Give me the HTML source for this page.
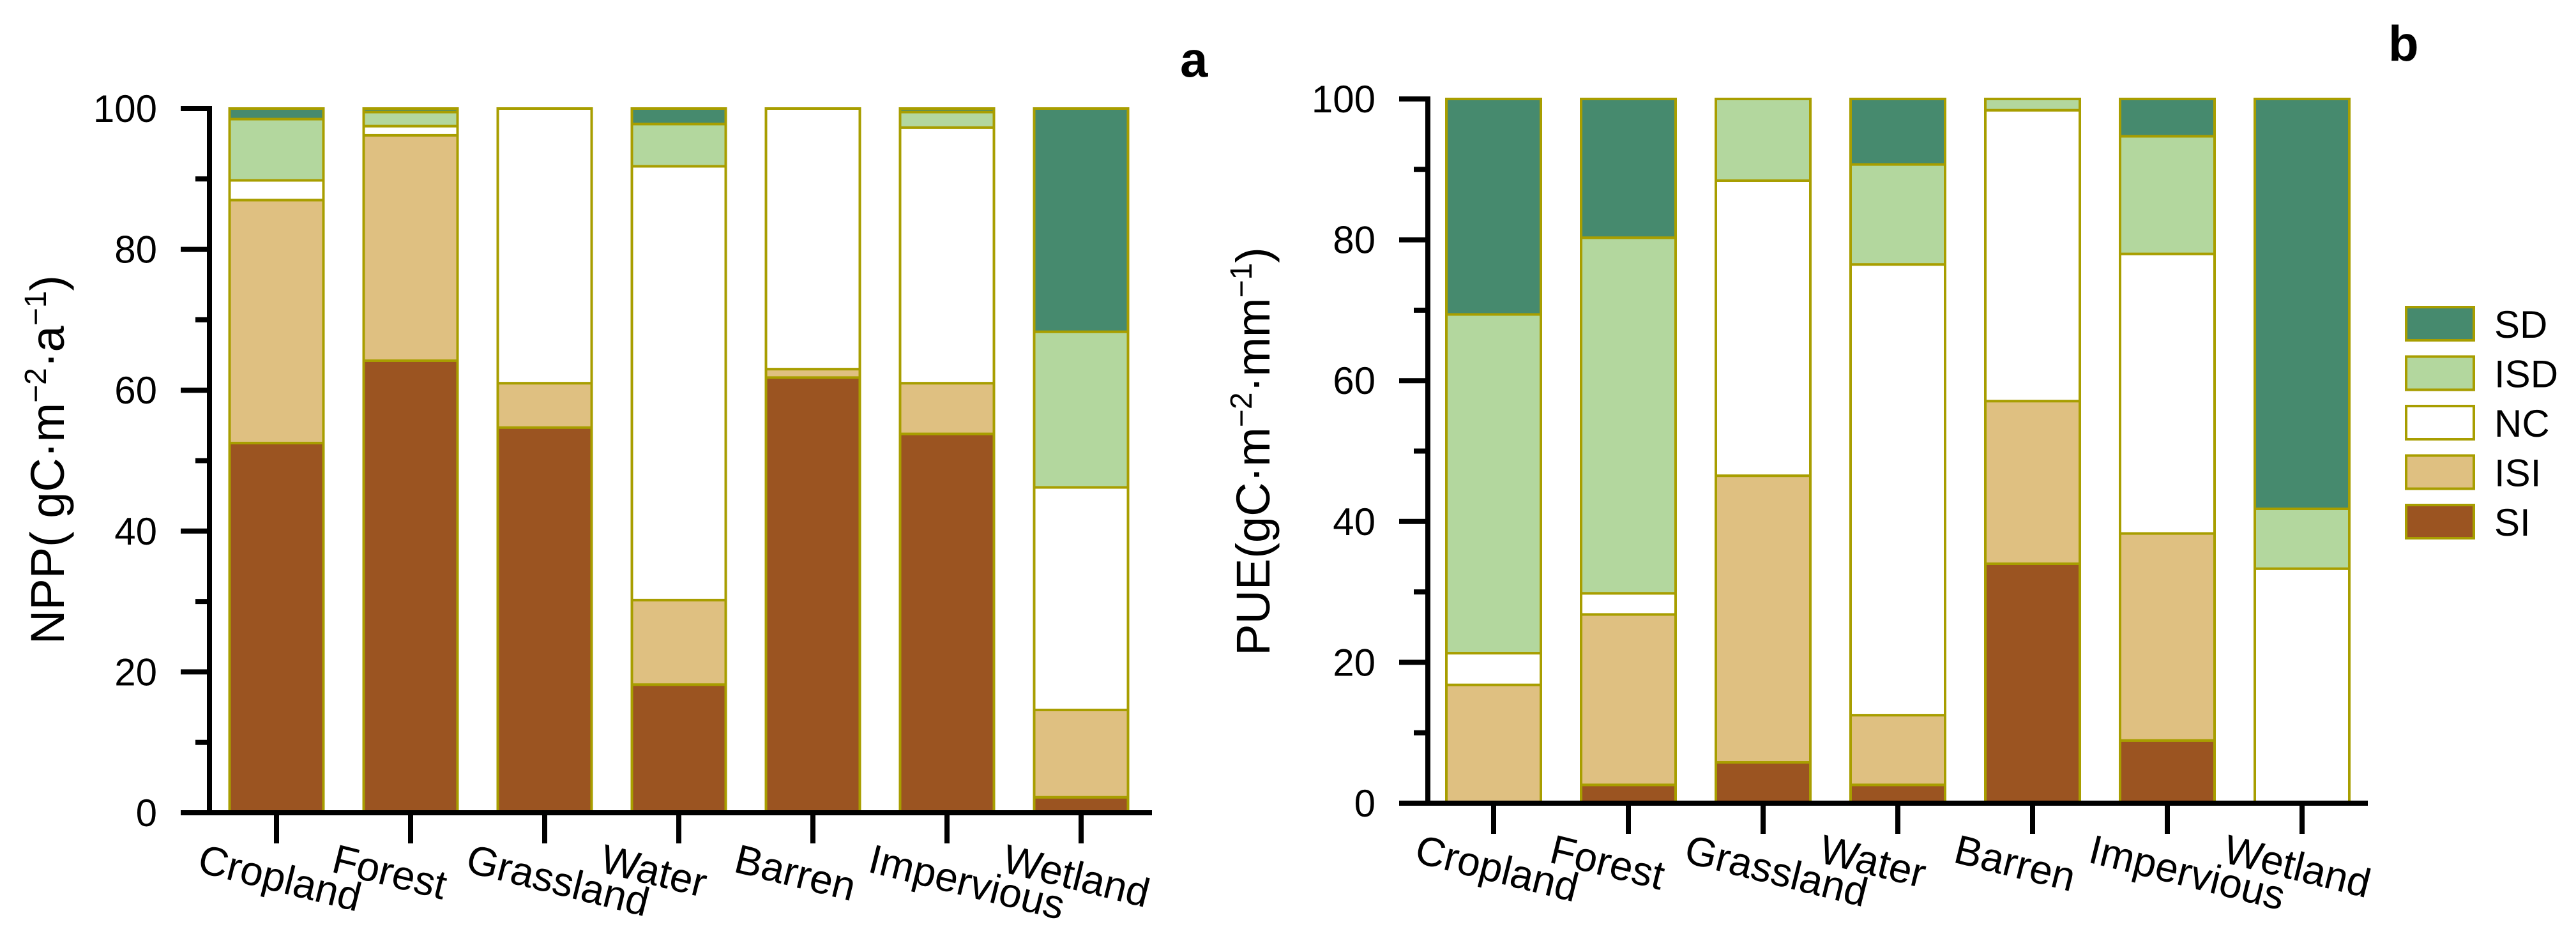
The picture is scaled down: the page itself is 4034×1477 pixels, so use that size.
<!DOCTYPE html>
<html><head><meta charset="utf-8">
<style>
html,body{margin:0;padding:0;background:#fff;}
svg{display:block;font-family:"Liberation Sans",Arial,sans-serif;}
</style></head>
<body>
<svg id="chart" width="4034" height="1477" viewBox="0 0 4034 1477" xmlns="http://www.w3.org/2000/svg">
<g id="panelA"></g>
<g id="panelB"></g>
<g id="legend"></g>
</svg>
<script>
const categories = ["Cropland","Forest","Grassland","Water","Barren","Impervious","Wetland"];
const seriesNames = ["SI","ISI","NC","ISD","SD"];
const seriesColors = ["#9b5421","#dfc081","#ffffff","#b3d79e","#468a6e"];
const yTicks = [0,20,40,60,80,100];
// Panel a (NPP) values (%), per series, per category
const nppSI  = [52.5, 64.2, 54.7, 18.2, 61.8, 53.8, 2.2];
const nppISI = [34.5, 32.0, 6.3, 12.0, 1.2, 7.2, 12.4];
const nppNC  = [2.8, 1.3, 39.0, 61.6, 37.0, 36.3, 31.6];
const nppISD = [8.7, 2.0, 0, 6.0, 0, 2.2, 22.1];
const nppSD  = [1.5, 0.5, 0, 2.2, 0, 0.5, 31.7];
// Panel b (PUE) values (%)
const pueSI  = [0, 2.6, 5.8, 2.6, 34.0, 8.9, 0];
const pueISI = [16.8, 24.2, 40.7, 9.9, 23.1, 29.4, 0];
const pueNC  = [4.5, 3.0, 41.9, 64.0, 41.3, 39.7, 33.3];
const pueISD = [48.1, 50.5, 11.6, 14.2, 1.6, 16.7, 8.5];
const pueSD  = [30.6, 19.7, 0, 9.3, 0, 5.3, 58.2];

const NS = "http://www.w3.org/2000/svg";
function mk(tag, attrs, parent){
  const e = document.createElementNS(NS, tag);
  for (const k in attrs) e.setAttribute(k, attrs[k]);
  parent.appendChild(e);
  return e;
}

function drawPanel(g, cfg, series, key){
  const yScale = v => cfg.y0 - (v/100)*(cfg.y0-cfg.y100);
  const xCenter = i => cfg.c0 + i*cfg.step;
  // bars
  categories.forEach((cat, i) => {
    let acc = 0;
    series.forEach((arr, s) => {
      const v = arr[i];
      if (v <= 0) return;
      const yTop = yScale(acc + v), yBot = yScale(acc);
      const r = mk("rect", {x: xCenter(i)-cfg.bw/2, y: yTop, width: cfg.bw, height: yBot-yTop,
        fill: seriesColors[s], stroke: "#a89e00", "stroke-width": 4}, g);
      
      
      acc += v;
    });
  });
  // y axis
  const ya = mk("line", {x1: cfg.ax, y1: cfg.y100-4, x2: cfg.ax, y2: cfg.y0+4, stroke: "#000", "stroke-width": 8}, g);
  
  
  for (let v = 0; v <= 100; v += 10) {
    const major = v % 20 === 0;
    const t = mk("line", {x1: cfg.ax - (major?45:22), y1: yScale(v), x2: cfg.ax, y2: yScale(v), stroke: "#000", "stroke-width": 8}, g);
    
    
  }
  yTicks.forEach(v => {
    const t = mk("text", {x: cfg.ax - 82, y: yScale(v) + 21, "text-anchor": "end", "font-size": 60, fill: "#000"}, g);
    t.textContent = v;
    
    
  });
  // x axis
  const xa = mk("line", {x1: cfg.ax-45, y1: cfg.y0, x2: cfg.xEnd, y2: cfg.y0, stroke: "#000", "stroke-width": 8}, g);
  
  
  categories.forEach((cat, i) => {
    const t = mk("line", {x1: xCenter(i), y1: cfg.y0, x2: xCenter(i), y2: cfg.y0+48, stroke: "#000", "stroke-width": 8}, g);
    
    
    const lx = xCenter(i) - 126, ly = cfg.y0 + 92;
    const l = mk("text", {x: lx, y: ly, "font-size": 64, fill: "#000", transform: "rotate(14 " + lx + " " + ly + ")"}, g);
    l.textContent = cat;
    
    
  });
  // title
  const tt = mk("text", {x: cfg.tx, y: cfg.ty, "text-anchor": "middle", "font-size": 74, fill: "#000",
    transform: "rotate(-90 " + cfg.tx + " " + cfg.ty + ")"}, g);
  tt.innerHTML = cfg.title;
  
  
  const pl = mk("text", {x: cfg.lx, y: cfg.ly, "font-size": 78, "font-weight": "bold", fill: "#000"}, g);
  pl.textContent = cfg.letter;
  
  
}

drawPanel(document.getElementById("panelA"), {
  ax: 328, y0: 1273, y100: 170, c0: 433, step: 210, bw: 147, xEnd: 1804,
  tx: 100, ty: 720, lx: 1848, ly: 120, letter: "a",
  title: 'NPP( gC·m<tspan dy="-28" font-size="48">−2</tspan><tspan dy="28">·a</tspan><tspan dy="-28" font-size="48">−1</tspan><tspan dy="28">)</tspan>'
}, [nppSI, nppISI, nppNC, nppISD, nppSD], "npp");

drawPanel(document.getElementById("panelB"), {
  ax: 2236, y0: 1258, y100: 155, c0: 2339, step: 211, bw: 148, xEnd: 3708,
  tx: 1988, ty: 707, lx: 3740, ly: 95, letter: "b",
  title: 'PUE(gC·m<tspan dy="-28" font-size="48">−2</tspan><tspan dy="28">·mm</tspan><tspan dy="-28" font-size="48">−1</tspan><tspan dy="28">)</tspan>'
}, [pueSI, pueISI, pueNC, pueISD, pueSD], "pue");

// legend (top to bottom: SD, ISD, NC, ISI, SI)
const lg = document.getElementById("legend");
for (let k = 0; k < 5; k++) {
  const s = 4 - k;
  const cy = 507 + k*77.5;
  const r = mk("rect", {x: 3768, y: cy-26, width: 106, height: 52, fill: seriesColors[s], stroke: "#a89e00", "stroke-width": 4}, lg);
  
  
  const t = mk("text", {x: 3906, y: cy + 22, "font-size": 60, fill: "#000"}, lg);
  t.textContent = seriesNames[s];
  
  
}
</script>
</body></html>
